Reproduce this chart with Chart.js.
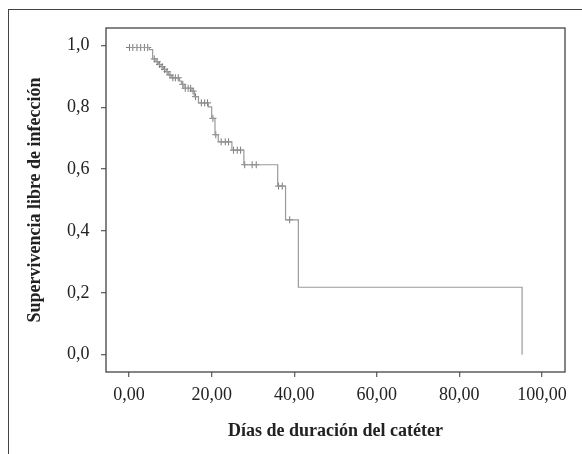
<!DOCTYPE html>
<html>
<head>
<meta charset="utf-8">
<script src="https://cdn.jsdelivr.net/npm/chart.js@4"></script>
<style>
  html, body { margin: 0; padding: 0; background: #fff; }
  #wrap { position: relative; width: 582px; height: 454px; overflow: hidden; }
  #frame { position: absolute; left: 8px; top: 9px; width: 600px; height: 500px;
           border-top: 1.3px solid #444; border-left: 1.3px solid #444; }
  #km { position: absolute; left: 0; top: 0; }
</style>
</head>
<body>
<div id="wrap">
  <div id="frame"></div>
  <canvas id="km" width="582" height="454"></canvas>
</div>
<script>
// Kaplan-Meier steps: time of event and survival after it
const stepTimes = [0, 4.9, 5.7, 6.5, 7.1, 7.7, 8.3, 9.0, 9.5, 10.3, 12.2, 12.7, 13.3, 15.2, 15.8, 16.8, 19.2, 20.0, 20.8, 21.6, 24.9, 27.8, 36.0, 37.9, 41.0, 95.2];
const stepSurv  = [0.993, 0.986, 0.956, 0.947, 0.938, 0.931, 0.922, 0.915, 0.904, 0.895, 0.884, 0.874, 0.861, 0.852, 0.834, 0.814, 0.801, 0.764, 0.711, 0.688, 0.661, 0.614, 0.545, 0.436, 0.218, 0];

// censored cases (marked with +)
const censorTimes = [0.1, 0.9, 1.9, 2.8, 3.7, 4.5, 6.1, 6.8, 7.4, 8.0, 8.6, 9.2, 9.9, 10.6, 11.2, 11.9, 13.0, 13.6, 14.3, 14.9, 15.5, 16.1, 17.5, 18.3, 19.0, 20.3, 21.0, 22.3, 23.3, 24.1, 25.3, 26.2, 27.0, 28.0, 29.8, 30.8, 36.2, 37.1, 38.9];

const xTicks = [0, 20, 40, 60, 80, 100];
const yTicks = [0, 0.2, 0.4, 0.6, 0.8, 1.0];

const xTitle = "Días de duración del catéter";
const yTitle = "Supervivencia libre de infección";

function survAt(t){
    let s = stepSurv[0];
    for(let i = 0; i < stepTimes.length; i++){
        if(stepTimes[i] <= t) s = stepSurv[i];
    }
    return s;
}

const curve = stepTimes.map((t, i) => ({x: t, y: stepSurv[i]}));
const censored = censorTimes.map((t) => ({x: t, y: survAt(t)}));

const tickFont = { family: "'Liberation Serif', 'Times New Roman', serif", size: 18 };
const titleFont = { family: "'Liberation Serif', 'Times New Roman', serif", size: 18, weight: "bold" };

// box round the plot area
const plotFrame = {
    id: "plotFrame",
    afterDraw(chart){
        const {ctx, chartArea: a} = chart;
        ctx.save();
        ctx.strokeStyle = "#444";
        ctx.lineWidth = 1.3;
        ctx.strokeRect(a.left, a.top, a.right - a.left, a.bottom - a.top);
        ctx.restore();
    }
};

const ctx = document.getElementById("km");
const chart = new Chart(ctx, {
    type: "line",
    data: {
        datasets: [
            {
                data: curve,
                stepped: true,
                borderColor: "#9a9a9a",
                borderWidth: 1.2,
                pointRadius: 0,
                fill: false,
            },
            {
                type: "scatter",
                data: censored,
                pointStyle: "cross",
                pointRadius: 3.5,
                borderColor: "#7a7a7a",
                borderWidth: 1,
                backgroundColor: "#7a7a7a",
            }
        ]
    },
    options: {
        responsive: false,
        animation: false,
        layout: { padding: { left: 0, top: 28, right: 17, bottom: 0 } },
        plugins: {
            legend: { display: false },
            tooltip: { enabled: false }
        },
        scales: {
            x: {
                type: "linear",
                min: -5.6,
                max: 105.6,
                afterBuildTicks: (scale) => { scale.ticks = xTicks.map((v) => ({value: v})); },
                afterFit: (scale) => { scale.height = 82; },
                grid: { drawOnChartArea: false, drawTicks: true, tickLength: 5, color: "#666", lineWidth: 1.3 },
                border: { display: false },
                ticks: {
                    color: "#222",
                    font: tickFont,
                    padding: 7,
                    maxRotation: 0,
                    callback: (val) => val.toFixed(2).replace(".", ",")
                },
                title: {
                    display: true,
                    text: xTitle,
                    color: "#222",
                    font: titleFont,
                    padding: { top: 0, bottom: 11.5 }
                }
            },
            y: {
                type: "linear",
                min: -0.056,
                max: 1.056,
                afterBuildTicks: (scale) => { scale.ticks = yTicks.map((v) => ({value: v})); },
                afterFit: (scale) => { scale.width = 106; },
                grid: { drawOnChartArea: false, drawTicks: true, tickLength: 5, color: "#666", lineWidth: 1.3 },
                border: { display: false },
                ticks: {
                    color: "#222",
                    font: tickFont,
                    padding: 11.5,
                    callback: (val) => val.toFixed(1).replace(".", ",")
                },
                title: {
                    display: true,
                    text: yTitle,
                    color: "#222",
                    font: titleFont,
                    padding: { top: 25, bottom: 0 }
                }
            }
        }
    },
    plugins: [plotFrame]
});
</script>
</body>
</html>
